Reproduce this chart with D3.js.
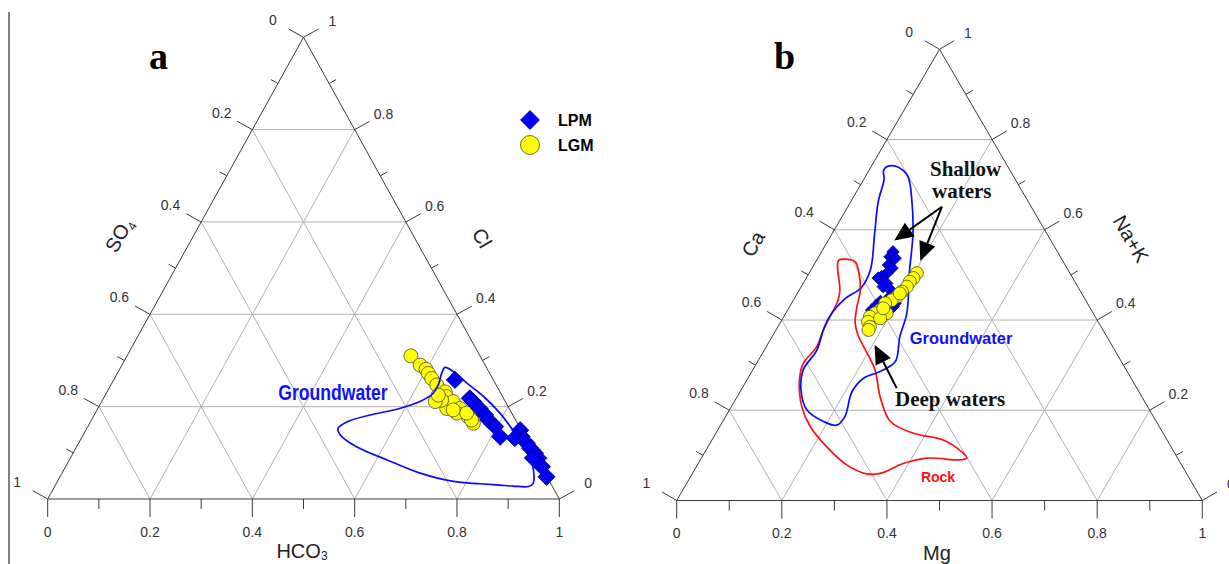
<!DOCTYPE html>
<html><head><meta charset="utf-8">
<script src="https://cdn.jsdelivr.net/npm/d3@7"></script>
<style>body{margin:0;background:#fff}svg{display:block}</style>
</head><body>
<svg id="chart" width="1229" height="564"></svg>
<script>
// ---------- data (ternary fractions) ----------
const tickValues = [0,0.1,0.2,0.3,0.4,0.5,0.6,0.7,0.8,0.9,1];
const tickLabels = ["0","","0.2","","0.4","","0.6","","0.8","","1"];
const gridValues = [0.2,0.4,0.6,0.8];

// Panel a : [HCO3, Cl]  (SO4 = 1 - HCO3 - Cl)
const aLGM = [[0.555,0.310],[0.583,0.290],[0.599,0.281],[0.608,0.272],[0.620,0.261],[0.637,0.247],
  [0.661,0.232],[0.668,0.222],[0.682,0.196],[0.687,0.211],[0.708,0.196],[0.733,0.178],[0.750,0.164],
  [0.743,0.171],[0.663,0.214],[0.652,0.211],[0.707,0.186],[0.726,0.186],[0.651,0.225],[0.696,0.193]];
const aLPM = [[0.667,0.258],[0.716,0.218],[0.726,0.211],[0.746,0.196],[0.764,0.182],[0.776,0.171],
  [0.796,0.157],[0.817,0.135],[0.849,0.149],[0.859,0.135],[0.876,0.121],[0.888,0.110],[0.903,0.099],
  [0.915,0.088],[0.931,0.070],[0.951,0.048],[0.847,0.132],[0.904,0.089]];
const aGroundwater = [[0.634,0.285],[0.655,0.276],[0.694,0.251],[0.741,0.222],[0.791,0.186],[0.835,0.149],
  [0.869,0.121],[0.897,0.092],[0.918,0.063],[0.932,0.034],[0.926,0.027],[0.896,0.028],[0.869,0.030],
  [0.829,0.033],[0.774,0.038],[0.700,0.056],[0.620,0.085],[0.547,0.113],[0.502,0.139],[0.491,0.153],
  [0.501,0.167],[0.539,0.182],[0.590,0.196],[0.622,0.211],[0.639,0.229],[0.640,0.247],[0.634,0.272]];

// Panel b : [Mg, Na+K]  (Ca = 1 - Mg - Na+K)
const bLPM = [[0.136,0.551],[0.136,0.540],[0.147,0.537],[0.142,0.522],[0.152,0.515],[0.148,0.504],
  [0.142,0.496],[0.137,0.493],[0.151,0.485],[0.159,0.481],[0.156,0.474],[0.173,0.467],[0.180,0.452],
  [0.197,0.437],[0.167,0.441],[0.164,0.433],[0.197,0.430],[0.160,0.422]];
const bLGM = [[0.205,0.504],[0.204,0.493],[0.201,0.485],[0.201,0.474],[0.197,0.463],[0.193,0.452],
  [0.187,0.444],[0.178,0.437],[0.192,0.415],[0.176,0.422],[0.170,0.415],[0.164,0.407],[0.166,0.396],
  [0.175,0.385],[0.176,0.378],[0.185,0.404],[0.180,0.426],[0.195,0.459]];
const bGroundwater = [[0.030,0.740],[0.051,0.739],[0.080,0.719],[0.116,0.663],[0.154,0.591],[0.191,0.503],
  [0.230,0.416],[0.243,0.363],[0.262,0.308],[0.244,0.286],[0.220,0.271],[0.213,0.241],[0.227,0.186],
  [0.221,0.167],[0.192,0.175],[0.147,0.201],[0.114,0.245],[0.096,0.289],[0.100,0.334],[0.090,0.378],
  [0.087,0.408],[0.097,0.448],[0.115,0.471],[0.113,0.511],[0.081,0.591],[0.052,0.663],[0.039,0.711],[0.028,0.731]];
const bRock = [[0.042,0.533],[0.053,0.535],[0.075,0.529],[0.090,0.511],[0.116,0.467],[0.128,0.430],
  [0.143,0.393],[0.163,0.365],[0.192,0.334],[0.233,0.289],[0.272,0.230],[0.319,0.175],[0.376,0.149],
  [0.440,0.134],[0.488,0.108],[0.505,0.094],[0.494,0.090],[0.429,0.094],[0.390,0.082],[0.357,0.060],
  [0.332,0.059],[0.284,0.079],[0.226,0.119],[0.172,0.164],[0.134,0.208],[0.100,0.267],[0.089,0.304],
  [0.096,0.341],[0.090,0.378],[0.088,0.408],[0.085,0.444],[0.077,0.467],[0.055,0.504],[0.044,0.524]];
// annotation arrows in panel b : [from, to] as [Mg, Na+K]
const bShallowArrows = [[[0.179,0.651],[0.126,0.576]],[[0.179,0.651],[0.198,0.531]]];
const bDeepArrows = [[[0.294,0.249],[0.204,0.345]]];

// ---------- layout ----------
const svg = d3.select("#chart");
const SANS = "'Liberation Sans', Arial, sans-serif";
const SERIF = "'Liberation Serif', 'Times New Roman', serif";

svg.append("line").attr("x1",9).attr("x2",9).attr("y1",12).attr("y2",564)
  .attr("stroke","#000").attr("stroke-width",1);

function makePanel(x0,x1,yb,yt){
  const xs = d3.scaleLinear().domain([0,1]).range([x0,x1]);
  const ys = d3.scaleLinear().domain([0,1]).range([yb,yt]);
  const proj = (b,t)=>[xs(b+t/2), ys(t)];
  return {xs,ys,proj};
}

function drawFrame(g,P){
  const p=P.proj;
  const grid=g.append("g").attr("stroke","#a8a8a8").attr("stroke-width",0.9).attr("fill","none");
  const seg=(a,b)=>grid.append("line").attr("x1",a[0]).attr("y1",a[1]).attr("x2",b[0]).attr("y2",b[1]);
  gridValues.forEach(v=>{
    seg(p(0,v),p(1-v,v));
    seg(p(v,0),p(v,1-v));
    seg(p(1-v,0),p(0,1-v));
  });
  const L=p(0,0),R=p(1,0),T=p(0,1);
  g.append("path").attr("d",`M${L}L${R}L${T}Z`).attr("fill","none").attr("stroke","#3a3a3a").attr("stroke-width",1);
  const norm=(a,b)=>{const ex=a[0]-b[0],ey=a[1]-b[1],l=Math.hypot(ex,ey);return [-ey/l,ex/l];};
  const nL=norm(L,T), nR=norm(T,R);
  const tk=g.append("g").attr("stroke","#3a3a3a").attr("stroke-width",1);
  const lab=g.append("g").attr("font-family",SANS).attr("font-size",14).attr("fill","#333")
    .attr("text-anchor","middle");
  tickValues.forEach((v,i)=>{
    const major = i%2===0;
    let q=p(v,0);
    tk.append("line").attr("x1",q[0]).attr("y1",q[1]).attr("x2",q[0]).attr("y2",q[1]+(major?18:10));
    if(major) lab.append("text").attr("x",q[0]).attr("y",q[1]+33).attr("dy","0.35em").text(tickLabels[i]);
    q=p(0,1-v); const ll=major?17:8;
    tk.append("line").attr("x1",q[0]).attr("y1",q[1]).attr("x2",q[0]+nL[0]*ll).attr("y2",q[1]+nL[1]*ll);
    if(major) lab.append("text").attr("x",q[0]+nL[0]*35).attr("y",q[1]+nL[1]*35).attr("dy","0.35em").text(tickLabels[i]);
    q=p(1-v,v);
    tk.append("line").attr("x1",q[0]).attr("y1",q[1]).attr("x2",q[0]+nR[0]*ll).attr("y2",q[1]+nR[1]*ll);
    if(major) lab.append("text").attr("x",q[0]+nR[0]*33).attr("y",q[1]+nR[1]*33).attr("dy","0.35em").text(tickLabels[i]);
  });
}

const contourLine = P => d3.line().x(d=>P.proj(d[0],d[1])[0]).y(d=>P.proj(d[0],d[1])[1])
  .curve(d3.curveCatmullRomClosed.alpha(0.5));

function circles(g,P,data,r){
  g.append("g").selectAll("circle").data(data).join("circle")
    .attr("cx",d=>P.proj(d[0],d[1])[0]).attr("cy",d=>P.proj(d[0],d[1])[1]).attr("r",r)
    .attr("fill","#ffff00").attr("stroke","#4a4a30").attr("stroke-width",0.8);
}
function diamonds(g,P,data,size){
  const sym=d3.symbol().type(d3.symbolSquare).size(size);
  g.append("g").selectAll("path").data(data).join("path")
    .attr("d",sym).attr("transform",d=>{const q=P.proj(d[0],d[1]);return `translate(${q[0]},${q[1]}) rotate(45)`;})
    .attr("fill","#0000f5").attr("stroke","#000060").attr("stroke-width",0.7);
}

// ---------- panel a ----------
const PA = makePanel(47.7,559.3,499,37.3);
const ga = svg.append("g");
drawFrame(ga,PA);
circles(ga,PA,aLGM,7);
ga.append("path").datum(aGroundwater).attr("d",contourLine(PA)).attr("fill","none")
  .attr("stroke","#0a0aff").attr("stroke-width",1.7);
diamonds(ga,PA,aLPM,150);

ga.append("text").attr("x",149).attr("y",69).attr("font-family",SERIF).attr("font-weight","bold")
  .attr("font-size",38).text("a");
ga.append("text").attr("transform","translate(333,400) scale(0.88,1.1)").attr("text-anchor","middle")
  .attr("font-family",SANS).attr("font-weight","bold").attr("font-size",20).attr("fill","#1010ff").text("Groundwater");
// legend
ga.append("path").attr("d",d3.symbol().type(d3.symbolSquare).size(180)())
  .attr("transform","translate(530,120) rotate(45)").attr("fill","#0000f5").attr("stroke","#000060").attr("stroke-width",0.7);
ga.append("circle").attr("cx",530).attr("cy",145).attr("r",9.5).attr("fill","#ffff00").attr("stroke","#4a4a30").attr("stroke-width",0.8);
ga.append("text").attr("x",558).attr("y",126).attr("font-family",SANS).attr("font-weight","bold").attr("font-size",16).text("LPM");
ga.append("text").attr("x",558).attr("y",151).attr("font-family",SANS).attr("font-weight","bold").attr("font-size",16).text("LGM");
// axis titles
const t1=ga.append("text").attr("x",302).attr("y",558).attr("text-anchor","middle").attr("font-family",SANS).attr("font-size",20).attr("fill","#222");
t1.append("tspan").text("HCO");t1.append("tspan").attr("font-size",12).attr("dy",2).text("3");
const t2=ga.append("text").attr("transform","translate(119,235) rotate(-60)").attr("text-anchor","middle").attr("dy","0.35em")
  .attr("font-family",SANS).attr("font-size",20).attr("fill","#222");
t2.append("tspan").text("SO");t2.append("tspan").attr("font-size",12).attr("dy",4).text("4");
ga.append("text").attr("transform","translate(482,238) rotate(60)").attr("text-anchor","middle").attr("dy","0.35em")
  .attr("font-family",SANS).attr("font-size",20).attr("fill","#222").text("Cl");

// ---------- panel b ----------
const PB = makePanel(676.7,1202.3,500.5,49.3);
const gb = svg.append("g");
drawFrame(gb,PB);
gb.append("path").datum(bRock).attr("d",contourLine(PB)).attr("fill","none").attr("stroke","#ff1010").attr("stroke-width",1.7);
gb.append("path").datum(bGroundwater).attr("d",contourLine(PB)).attr("fill","none").attr("stroke","#0a0aff").attr("stroke-width",1.7);
diamonds(gb,PB,bLPM,80);
circles(gb,PB,bLGM,6.5);

function arrow(g,P,a){
  const s=P.proj(a[0][0],a[0][1]), e=P.proj(a[1][0],a[1][1]);
  const dx=e[0]-s[0], dy=e[1]-s[1], l=Math.hypot(dx,dy), ux=dx/l, uy=dy/l;
  const hl=19, hw=8.5, bx=e[0]-ux*hl, by=e[1]-uy*hl;
  g.append("line").attr("x1",s[0]).attr("y1",s[1]).attr("x2",bx).attr("y2",by).attr("stroke","#000").attr("stroke-width",2);
  g.append("path").attr("d",`M${e[0]},${e[1]}L${bx-uy*hw},${by+ux*hw}L${bx+uy*hw},${by-ux*hw}Z`).attr("fill","#000");
}
bShallowArrows.forEach(a=>arrow(gb,PB,a));
bDeepArrows.forEach(a=>arrow(gb,PB,a));

gb.append("text").attr("x",774).attr("y",69).attr("font-family",SERIF).attr("font-weight","bold").attr("font-size",38).text("b");
const serifTxt=(x,y,s)=>gb.append("text").attr("x",x).attr("y",y).attr("font-family",SERIF).attr("font-weight","bold").attr("font-size",21).attr("fill","#111").text(s);
serifTxt(930,176,"Shallow");
serifTxt(932,198,"waters");
serifTxt(895,406,"Deep waters");
gb.append("text").attr("x",961).attr("y",338).attr("dy","0.35em").attr("text-anchor","middle").attr("font-family",SANS)
  .attr("font-weight","bold").attr("font-size",16.5).attr("fill","#1010ff").text("Groundwater");
gb.append("text").attr("x",938).attr("y",477).attr("dy","0.35em").attr("text-anchor","middle").attr("font-family",SANS)
  .attr("font-weight","bold").attr("font-size",14).attr("fill","#ff1010").text("Rock");
gb.append("text").attr("x",937).attr("y",560).attr("text-anchor","middle").attr("font-family",SANS).attr("font-size",20).attr("fill","#222").text("Mg");
gb.append("text").attr("transform","translate(753,244) rotate(-60)").attr("text-anchor","middle").attr("dy","0.35em")
  .attr("font-family",SANS).attr("font-size",20).attr("fill","#222").text("Ca");
gb.append("text").attr("transform","translate(1131,239) rotate(60)").attr("text-anchor","middle").attr("dy","0.35em")
  .attr("font-family",SANS).attr("font-size",20).attr("fill","#222").text("Na+K");
</script>
</body></html>
